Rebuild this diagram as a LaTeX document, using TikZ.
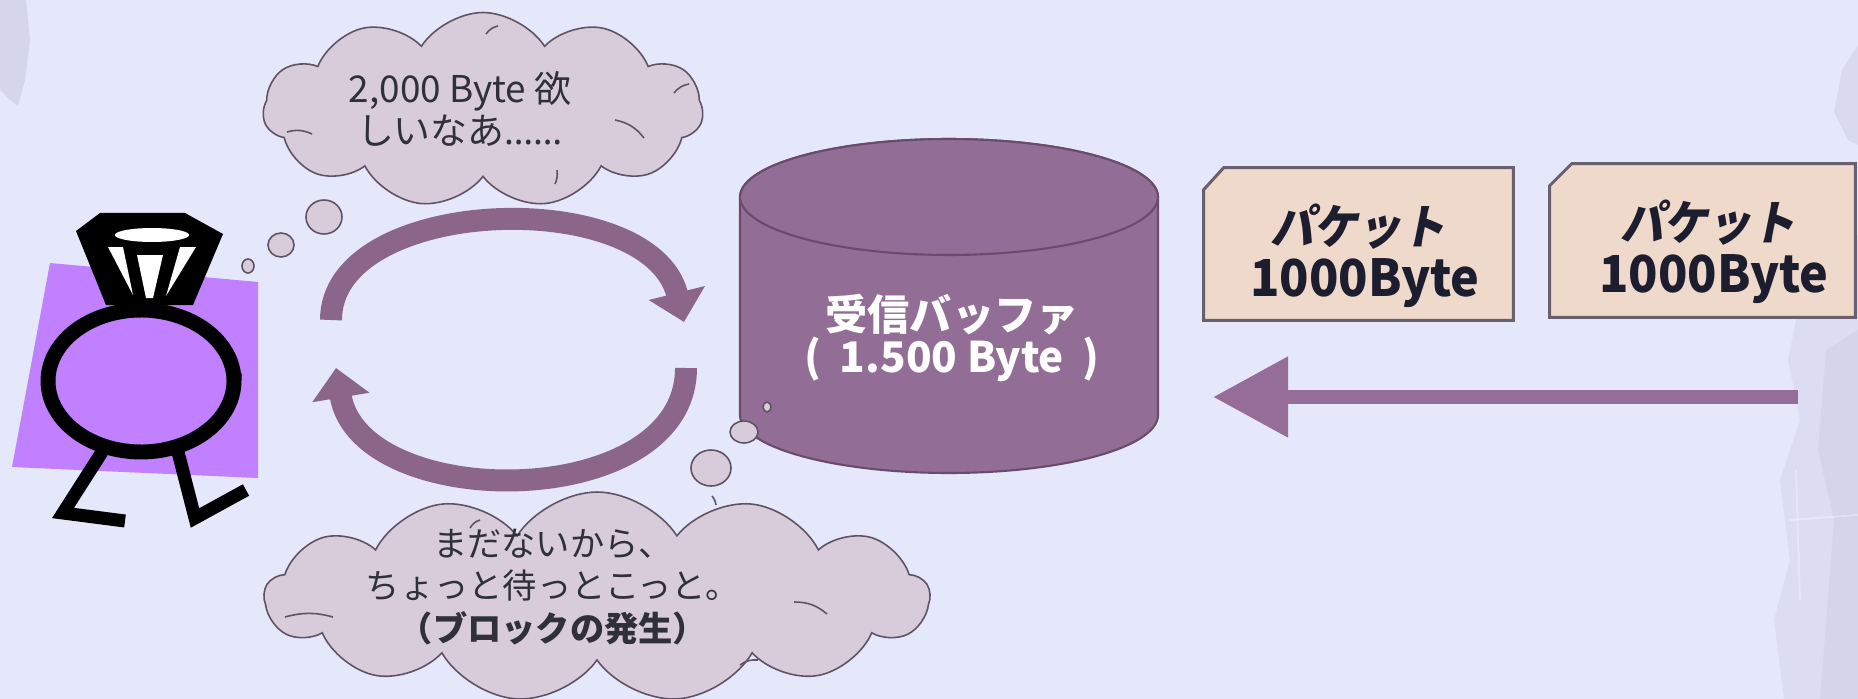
\documentclass[tikz,border=0pt]{standalone}
\usepackage{fontspec}
\setmainfont{Noto Sans CJK JP}
\newfontfamily\jp{Noto Sans CJK JP}
\newfontfamily\latin{Noto Sans}
\usetikzlibrary{arrows.meta,shapes.symbols}

\definecolor{bg}{RGB}{229,231,250}
\definecolor{grain}{RGB}{190,188,214}
\definecolor{cloudfill}{RGB}{216,203,218}
\definecolor{cloudline}{RGB}{95,82,100}
\definecolor{cyclecol}{RGB}{140,102,138}
\definecolor{cylfill}{RGB}{146,110,150}
\definecolor{cylline}{RGB}{105,75,108}
\definecolor{pktfill}{RGB}{239,217,203}
\definecolor{pktline}{RGB}{105,95,110}
\definecolor{lilac}{RGB}{192,128,255}
\definecolor{flowcol}{RGB}{150,108,152}
\definecolor{saytext}{RGB}{48,48,56}
\definecolor{pktink}{RGB}{28,30,48}

\begin{document}
\begin{tikzpicture}[x=0.02cm, y=-0.02cm,
  cloudbox/.style={cloud, cloud puffs=11, cloud puff arc=115, cloud ignores aspect,
    draw=cloudline, fill=cloudfill, line width=0.9pt, inner sep=0pt},
  puffline/.style={draw=cloudline, line width=0.9pt},
  bubble/.style={draw=cloudline, fill=cloudfill, line width=0.9pt},
  saying/.style={align=center, inner sep=0pt, text=saytext},
  pktbox/.style={rectangle, inner sep=0pt},
  pktshape/.style={draw=pktline, fill=pktfill, line width=1.7pt, line join=miter},
  pktkana/.style={inner sep=0pt, text=pktink, transform shape,
    font=\jp\bfseries\fontsize{27pt}{30pt}\selectfont},
  pktsize/.style={inner sep=0pt, text=pktink, transform shape,
    font=\jp\bfseries\fontsize{29pt}{30pt}\selectfont},
  cyclearrow/.style={draw=cyclecol, line width=12.5pt,
    -{Triangle[length=17pt, width=32pt]}},
  flowarrow/.style={draw=flowcol, line width=8.5pt,
    -{Triangle[length=42.7pt, width=43.8pt]}},
  cylstyle/.style={fill=cylfill, draw=cylline, line width=1.2pt},
  limb/.style={draw=black, line width=7.4pt, line join=miter, line cap=butt}
]
\useasboundingbox (0,0) rectangle (1858,699);
\clip (0,0) rectangle (1858,699);

% background and grainy edges
\fill[bg] (0,0) rectangle (1858,699);
\fill[grain, opacity=0.4] (0,0) -- (26,0) -- (30,40) -- (25,80) -- (18,106) -- (8,98) -- (0,90) -- cycle;
\fill[grain, opacity=0.3] (1858,45) -- (1842,70) -- (1834,112) -- (1848,140) -- (1858,145) -- cycle;
\fill[grain, opacity=0.22] (1858,235) -- (1812,250) -- (1800,300) -- (1788,360) -- (1800,420)
  -- (1780,480) -- (1790,560) -- (1774,620) -- (1784,699) -- (1858,699) -- cycle;
\fill[grain, opacity=0.25] (1858,330) -- (1826,350) -- (1818,450) -- (1834,520) -- (1820,699) -- (1858,699) -- cycle;
\draw[white, opacity=0.35, line width=1pt] (1790,520) -- (1858,515);
\draw[white, opacity=0.3, line width=1pt] (1796,470) -- (1800,600);

% the receiver (character)
\fill[lilac] (50,263) -- (258,282) -- (258,478) -- (12,467) -- cycle;
\fill[black] (76,231) -- (100,213) -- (185,213) -- (223,234) -- (193,305) -- (106,305) -- cycle;
\fill[white] plot[domain=0:360, samples=60] ({152+37*cos(\x)},{235+7*sin(\x)}) -- cycle;
\fill[white] (108,247) -- (123,247) -- (133,295) -- cycle;
\fill[white] (137,255) -- (163,255) -- (153,298) -- (146,298) -- cycle;
\fill[white] (180,247) -- (196,247) -- (166,296) -- cycle;
\draw[black, line width=8.5pt, fill=lilac] plot[domain=0:360, samples=90] ({141+93*cos(\x)},{381+71*sin(\x)}) -- cycle;
\draw[limb] (102,452) -- (63,513) -- (125,521);
\draw[limb] (178,452) -- (195,518) -- (246,490);

% receive buffer cylinder
\path[cylstyle] (740,197) -- (740,415)
  -- plot[domain=180:0, samples=60] ({949+209*cos(\x)},{415+58*sin(\x)})
  -- (1158,197)
  -- plot[domain=0:-180, samples=60] ({949+209*cos(\x)},{197+58*sin(\x)}) -- cycle;
\draw[cylstyle] plot[domain=0:360, samples=100] ({949+209*cos(\x)},{197+58*sin(\x)}) -- cycle;
\coordinate (buffer) at (949,306);
\node[inner sep=0pt, align=center, text=white, font=\jp\bfseries\fontsize{24pt}{24pt}\selectfont]
  (buflabel) at (952,338) {受信バッファ\\(\hspace{0.45em}1.500 Byte\hspace{0.45em})};

% thought clouds
\node[cloudbox, minimum width=8.8cm, minimum height=3.9cm] (wish) at (483,110) {};
\node[cloudbox, cloud puffs=13, minimum width=13.3cm, minimum height=4.2cm] (wait) at (597,597) {};
\draw[puffline] (287,132) to[bend left=20] (312,134);
\draw[puffline] (615,120) to[bend left=20] (644,138);
\draw[puffline] (557,170) to[bend left=15] (555,184);
\draw[puffline] (498,26) to[bend right=20] (486,34);
\draw[puffline] (689,84) to[bend right=20] (674,93);
\draw[puffline] (285,617) to[bend left=15] (333,617);
\draw[puffline] (794,602) to[bend left=20] (827,614);
\draw[puffline] (712,496) to[bend left=15] (716,505);
\draw[puffline] (480,520) to[bend right=20] (470,528);
\draw[puffline] (740,665) to[bend left=20] (758,660);
\node[saying, font=\jp\fontsize{21pt}{24pt}\selectfont] (wishtext) at (460,109)
  {2,000 Byte 欲\\しいなあ{\latin ……}};
\node[saying, font=\jp\fontsize{19.5pt}{24pt}\selectfont] (waittext) at (553,587)
  {まだないから、\\ちょっと待っとこっと。\\{\bfseries （ブロックの発生）}};

% thought bubbles
\draw[bubble] (324,217) ellipse [x radius=18, y radius=17];
\draw[bubble] (281,245) ellipse [x radius=13, y radius=12];
\draw[bubble] (248,266) ellipse [x radius=6, y radius=7];
\draw[bubble] (711,468) ellipse [x radius=20, y radius=18];
\draw[bubble] (744,432) ellipse [x radius=14, y radius=11];
\draw[bubble] (767,407) ellipse [x radius=4, y radius=5];

% waiting loop
\coordinate (loopA) at (331,320);
\coordinate (loopB) at (684,322);
\coordinate (loopC) at (686,368);
\coordinate (loopD) at (336,368);
\draw[cyclearrow] (loopA) .. controls (331,195) and (650,185) .. (loopB);
\draw[cyclearrow] (loopC) .. controls (686,513) and (360,513) .. (loopD);

% incoming packets (card shape with a clipped top-left corner)
\node[pktbox, minimum width=6.18cm, minimum height=3.04cm] (pkt1) at (1358.5,244) {};
\node[pktbox, minimum width=6.1cm, minimum height=3.06cm] (pkt2) at (1702.5,240.5) {};
\draw[pktshape] (pkt1.north west) ++(0,22) -- ++(20,-22) -- (pkt1.north east)
  -- (pkt1.south east) -- (pkt1.south west) -- cycle;
\draw[pktshape] (pkt2.north west) ++(0,22) -- ++(22,-22) -- (pkt2.north east)
  -- (pkt2.south east) -- (pkt2.south west) -- cycle;
\begin{scope}[shift={(1361,227)}, xslant=0.2, xscale=0.92]
  \node[pktkana] (pkt1kana) at (0,0) {パケット};
\end{scope}
\begin{scope}[shift={(1365,283)}, xscale=0.95]
  \node[pktsize] (pkt1size) at (0,0) {1000Byte};
\end{scope}
\begin{scope}[shift={(1711,223)}, xslant=0.2, xscale=0.92]
  \node[pktkana] (pkt2kana) at (0,0) {パケット};
\end{scope}
\begin{scope}[shift={(1714,279)}, xscale=0.95]
  \node[pktsize] (pkt2size) at (0,0) {1000Byte};
\end{scope}

% flow into the buffer
\coordinate (flowstart) at (1798,397);
\coordinate (flowend) at (1213,397);
\draw[flowarrow] (flowstart) -- (flowend);
\end{tikzpicture}
\end{document}
